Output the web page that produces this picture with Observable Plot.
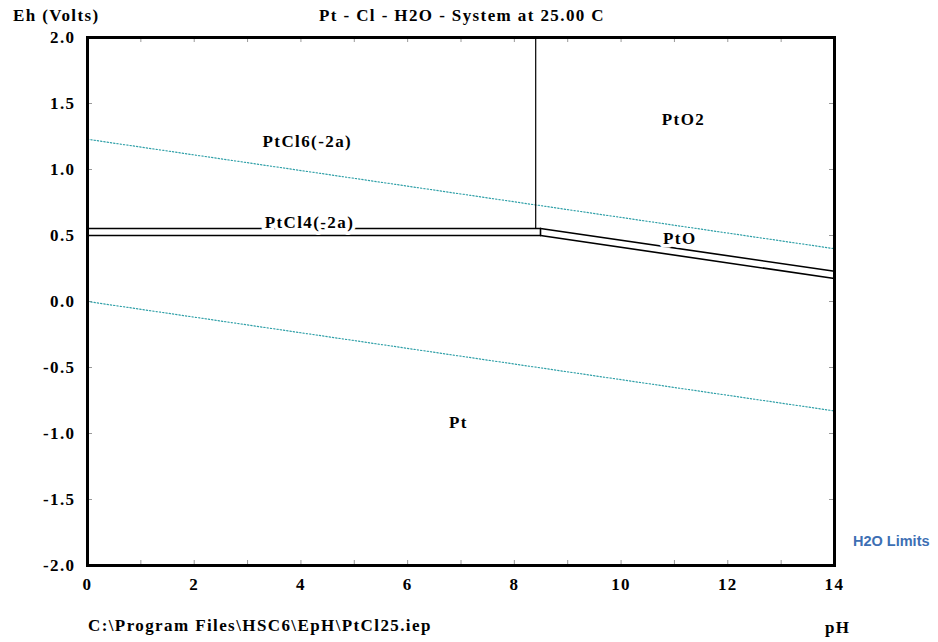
<!DOCTYPE html>
<html>
<head>
<meta charset="utf-8">
<script src="https://cdn.jsdelivr.net/npm/d3@7"></script>
<script src="https://cdn.jsdelivr.net/npm/@observablehq/plot@0.6"></script>
<style>
  body { margin: 0; background: #fff; }
  #wrap { position: relative; width: 938px; height: 642px; }
  .lbl { position: absolute; font-family: "Liberation Serif", "Times New Roman", serif; font-weight: bold; font-size: 17px; letter-spacing: 1.4px; line-height: 20px; white-space: nowrap; color: #000; }
  .leg { position: absolute; font-family: "Liberation Sans", Arial, sans-serif; font-weight: bold; font-size: 14.5px; line-height: 18px; color: #3d6fb4; white-space: nowrap; }
</style>
</head>
<body>
<div id="wrap">
  <div class="lbl" style="left:13px; top:6px;">Eh (Volts)</div>
  <div class="lbl" style="left:0; width:924px; text-align:center; top:6px;">Pt - Cl - H2O - System at 25.00 C</div>
  <div class="lbl" style="left:88px; top:616px;">C:\Program Files\HSC6\EpH\PtCl25.iep</div>
  <div class="lbl" style="left:825px; top:618px;">pH</div>
  <div class="leg" style="left:853px; top:532px;">H2O Limits</div>
</div>
<script>
// ---- data ----
const xTickLabels = [0, 2, 4, 6, 8, 10, 12, 14];
const xMinorTicks = [1, 2, 3, 4, 5, 6, 7, 8, 9, 10, 11, 12, 13];
const yTickLabels = [2.0, 1.5, 1.0, 0.5, 0.0, -0.5, -1.0, -1.5, -2.0];
const yMinorTicks = [1.5, 1.0, 0.5, 0.0, -0.5, -1.0, -1.5];

// H2O stability limits (pH, Eh)
const h2oUpper = [[0, 1.229], [14, 0.400]];
const h2oLower = [[0, 0.000], [14, -0.829]];

// phase boundaries (pH, Eh)
const bPtCl6_PtCl4 = [[0, 0.553], [8.49, 0.553]];
const bPtCl4_Pt    = [[0, 0.500], [8.49, 0.500]];
const bPtCl6_PtO2  = [[8.40, 0.553], [8.40, 2.0]];
const bPtCl4_PtO   = [[8.49, 0.553], [8.49, 0.500]];
const bPtO2_PtO    = [[8.49, 0.553], [14, 0.229]];
const bPtO_Pt      = [[8.49, 0.500], [14, 0.174]];

// region labels
const labelNames = ["PtCl6(-2a)", "PtO2", "PtCl4(-2a)", "PtO", "Pt"];
const labelPH    = [4.12, 11.17, 4.16, 11.1, 6.95];
const labelEh    = [1.21, 1.38, 0.600, 0.48, -0.917];
const labels = labelNames.map((t, i) => ({text: t, x: labelPH[i], y: labelEh[i]}));

const W = 938, H = 642, mL = 87, mR = 104, mT = 37, mB = 77;
const pw = W - mL - mR, ph = H - mT - mB, tl = 5;

const boundary = (d) => Plot.line(d, {x: "0", y: "1", stroke: "black", strokeWidth: 1.6});

const chart = Plot.plot({
  width: W, height: H,
  marginLeft: mL, marginRight: mR, marginTop: mT, marginBottom: mB,
  style: {fontFamily: "'Liberation Serif', 'Times New Roman', serif", fontSize: "17px", fontWeight: "bold", letterSpacing: "1.4px", background: "white", color: "black"},
  x: {domain: [0, 14]},
  y: {domain: [-2, 2]},
  marks: [
    Plot.axisX({ticks: xTickLabels, tickFormat: d => String(d), tickSize: 0, tickPadding: 12, label: null}),
    Plot.axisY({ticks: yTickLabels, tickFormat: d => d.toFixed(1), tickSize: 0, tickPadding: 12, label: null}),
    Plot.tickX(xMinorTicks, {x: d => d, insetBottom: ph - tl, stroke: "#999"}),
    Plot.tickX(xMinorTicks, {x: d => d, insetTop: ph - tl, stroke: "#999"}),
    Plot.tickY(yMinorTicks, {y: d => d, insetRight: pw - tl, stroke: "#999"}),
    Plot.tickY(yMinorTicks, {y: d => d, insetLeft: pw - tl, stroke: "#999"}),
    Plot.line(h2oUpper, {x: "0", y: "1", stroke: "#30a0a8", strokeWidth: 1.2, strokeDasharray: "1.3,2"}),
    Plot.line(h2oLower, {x: "0", y: "1", stroke: "#30a0a8", strokeWidth: 1.2, strokeDasharray: "1.3,2"}),
    boundary(bPtCl6_PtCl4),
    boundary(bPtCl4_Pt),
    Plot.line(bPtCl6_PtO2, {x: "0", y: "1", stroke: "black", strokeWidth: 1.2}),
    boundary(bPtCl4_PtO),
    boundary(bPtO2_PtO),
    boundary(bPtO_Pt),
    Plot.text(labels, {x: "x", y: "y", text: "text", fill: "black", stroke: "white", strokeWidth: 7, strokeLinejoin: "round", paintOrder: "stroke", fontSize: 17, fontWeight: "bold"}),
    Plot.frame({stroke: "black", strokeWidth: 3})
  ]
});
document.getElementById("wrap").prepend(chart);
chart.style.position = "absolute";
chart.style.left = "0";
chart.style.top = "0";
</script>
</body>
</html>
